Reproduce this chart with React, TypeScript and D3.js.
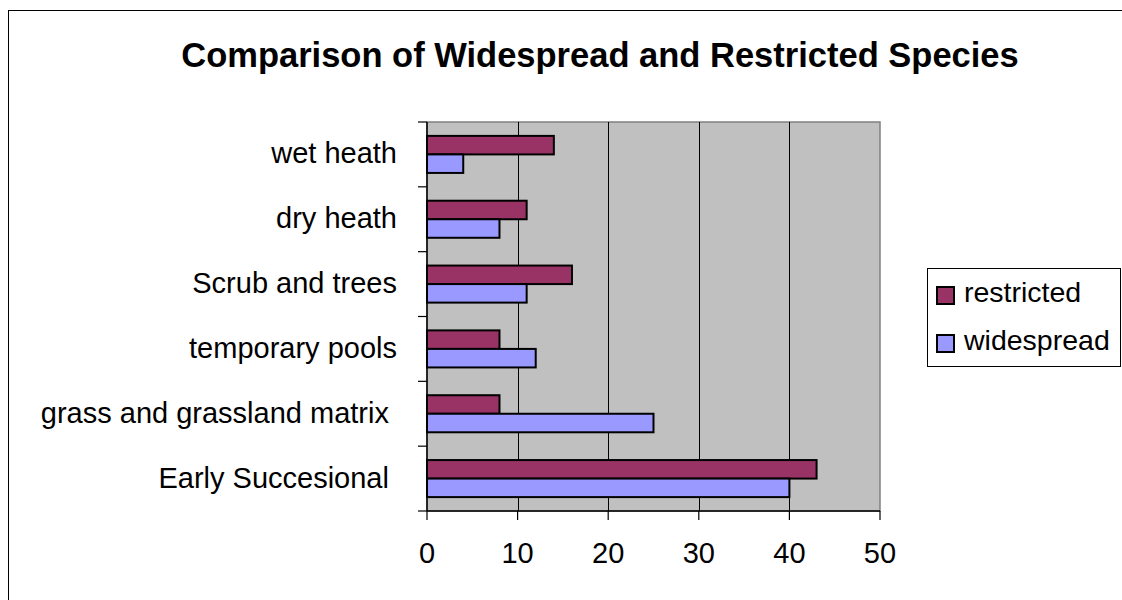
import React, { useEffect, useRef } from 'react';
import * as d3 from 'd3';

const categories = [
  'wet heath',
  'dry heath',
  'Scrub and trees',
  'temporary pools',
  'grass and grassland matrix ',
  'Early Succesional ',
];
const seriesNames = ['restricted', 'widespread'];
const restricted = [14, 11, 16, 8, 8, 43];
const widespread = [4, 8, 11, 12, 25, 40];
const xTicks = [0, 10, 20, 30, 40, 50];
const colors = ['#993366', '#9999FF'];

const FONT = "'Liberation Sans', Arial, sans-serif";

const App = () => {
  const svgRef = useRef<SVGSVGElement | null>(null);

  useEffect(() => {
    const svg = d3.select(svgRef.current);
    svg.selectAll('*').remove();

    // plot area
    const plot = { left: 427, right: 880, top: 122, bottom: 511 };

    const x = d3.scaleLinear().domain([0, 50]).range([plot.left, plot.right]);
    const y0 = d3
      .scaleBand()
      .domain(categories)
      .range([plot.top, plot.bottom])
      .paddingInner(0)
      .paddingOuter(0);
    const y1 = d3
      .scaleBand()
      .domain(seriesNames)
      .range([0, y0.bandwidth()])
      .paddingInner(0)
      .paddingOuter(0.75);

    // outer frame
    svg
      .append('rect')
      .attr('x', 8.5)
      .attr('y', 10.5)
      .attr('width', 1130)
      .attr('height', 600)
      .attr('fill', '#fff')
      .attr('stroke', '#000')
      .attr('stroke-width', 1);

    // title
    svg
      .append('text')
      .attr('x', 600)
      .attr('y', 67)
      .attr('text-anchor', 'middle')
      .attr('font-family', FONT)
      .attr('font-weight', 'bold')
      .attr('font-size', 34.5)
      .text('Comparison of Widespread and Restricted Species');

    // plot background
    svg
      .append('rect')
      .attr('x', plot.left)
      .attr('y', plot.top)
      .attr('width', plot.right - plot.left)
      .attr('height', plot.bottom - plot.top)
      .attr('fill', '#C0C0C0')
      .attr('stroke', '#808080')
      .attr('stroke-width', 1.5);

    // gridlines
    svg
      .selectAll('.grid')
      .data(xTicks.filter(d => d > 0 && d < 50))
      .join('line')
      .attr('class', 'grid')
      .attr('x1', d => Math.round(x(d)) + 0.5)
      .attr('x2', d => Math.round(x(d)) + 0.5)
      .attr('y1', plot.top)
      .attr('y2', plot.bottom)
      .attr('stroke', '#000')
      .attr('stroke-width', 1);

    // bars
    const groups = svg
      .selectAll('.cat')
      .data(categories)
      .join('g')
      .attr('class', 'cat')
      .attr('transform', d => `translate(0, ${y0(d)})`);

    groups
      .selectAll('rect')
      .data((d, i) => [
        { key: 'restricted', value: restricted[i] },
        { key: 'widespread', value: widespread[i] },
      ])
      .join('rect')
      .attr('x', x(0))
      .attr('y', d => y1(d.key) as number)
      .attr('width', d => x(d.value) - x(0))
      .attr('height', y1.bandwidth())
      .attr('fill', (d, i) => colors[i])
      .attr('stroke', '#000')
      .attr('stroke-width', 2);

    // y axis line and ticks
    svg
      .append('line')
      .attr('x1', plot.left)
      .attr('x2', plot.left)
      .attr('y1', plot.top)
      .attr('y2', plot.bottom)
      .attr('stroke', '#000')
      .attr('stroke-width', 1.5);

    const bounds = categories.map(c => y0(c) as number).concat([plot.bottom]);
    svg
      .selectAll('.ytick')
      .data(bounds)
      .join('line')
      .attr('class', 'ytick')
      .attr('x1', plot.left - 9)
      .attr('x2', plot.left)
      .attr('y1', d => d)
      .attr('y2', d => d)
      .attr('stroke', '#000')
      .attr('stroke-width', 1.2);

    // category labels (trailing spaces kept, as in the source sheet)
    svg
      .selectAll('.ylabel')
      .data(categories)
      .join('text')
      .attr('class', 'ylabel')
      .attr('x', 397)
      .attr('y', d => (y0(d) as number) + y0.bandwidth() / 2 + 9)
      .attr('text-anchor', 'end')
      .attr('font-family', FONT)
      .attr('font-size', 29)
      .style('white-space', 'pre')
      .text(d => d);

    // x axis
    svg
      .append('line')
      .attr('x1', plot.left)
      .attr('x2', plot.right)
      .attr('y1', plot.bottom)
      .attr('y2', plot.bottom)
      .attr('stroke', '#000')
      .attr('stroke-width', 1.5);

    svg
      .selectAll('.xtick')
      .data(xTicks)
      .join('line')
      .attr('class', 'xtick')
      .attr('x1', d => x(d))
      .attr('x2', d => x(d))
      .attr('y1', plot.bottom)
      .attr('y2', plot.bottom + 9)
      .attr('stroke', '#000')
      .attr('stroke-width', 1.2);

    svg
      .selectAll('.xlabel')
      .data(xTicks)
      .join('text')
      .attr('class', 'xlabel')
      .attr('x', d => x(d))
      .attr('y', 563)
      .attr('text-anchor', 'middle')
      .attr('font-family', FONT)
      .attr('font-size', 29)
      .text(d => String(d));

    // legend
    const legend = svg.append('g');
    legend
      .append('rect')
      .attr('x', 927.5)
      .attr('y', 268.5)
      .attr('width', 193)
      .attr('height', 98)
      .attr('fill', '#fff')
      .attr('stroke', '#000')
      .attr('stroke-width', 1);

    seriesNames.forEach((name, i) => {
      const top = 287 + i * 48;
      legend
        .append('rect')
        .attr('x', 937)
        .attr('y', top)
        .attr('width', 17)
        .attr('height', 17)
        .attr('fill', colors[i])
        .attr('stroke', '#000')
        .attr('stroke-width', 2);
      legend
        .append('text')
        .attr('x', 964)
        .attr('y', top + 15)
        .attr('font-family', FONT)
        .attr('font-size', 28.5)
        .text(name);
    });
  }, []);

  return (
    <svg
      ref={svgRef}
      width={1122}
      height={600}
      style={{ position: 'absolute', left: 0, top: 0 }}
    />
  );
};

export default App;
